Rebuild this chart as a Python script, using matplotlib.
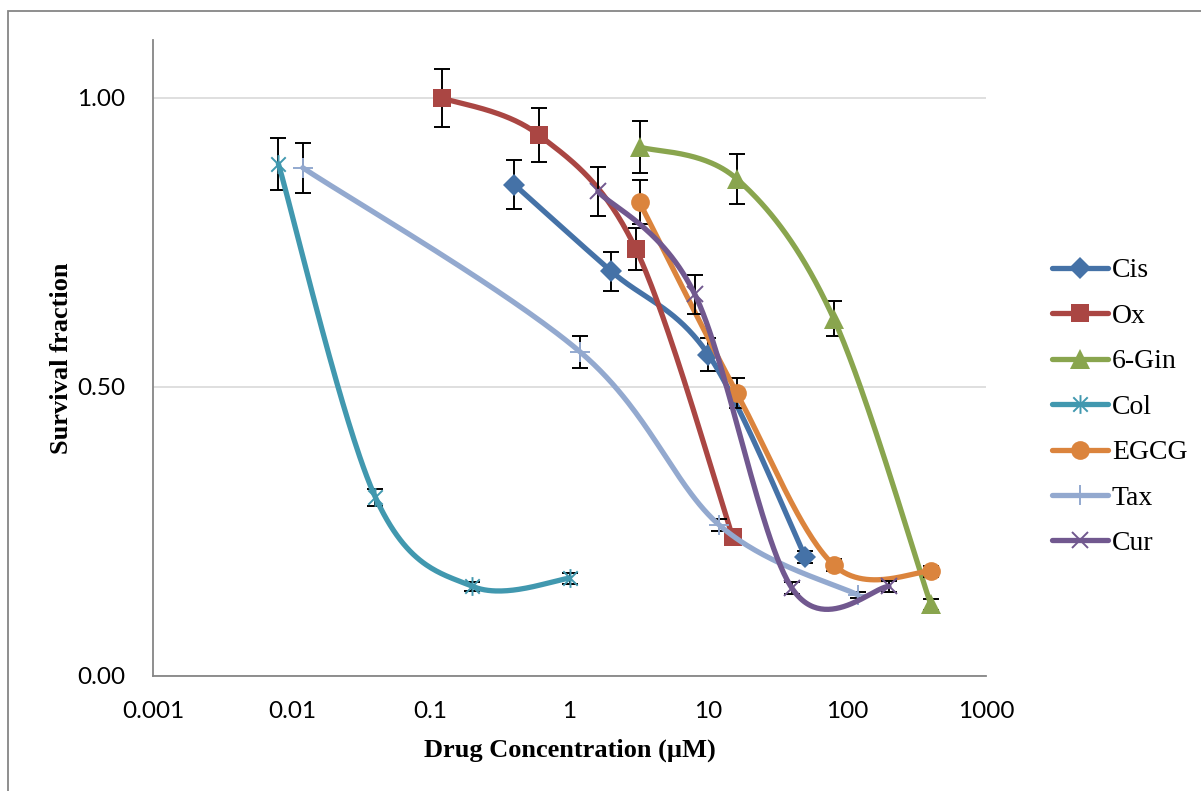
import numpy as np
import matplotlib
matplotlib.use("Agg")
import matplotlib.pyplot as plt
from matplotlib.path import Path
from matplotlib.patches import Rectangle

# ---- data ----
names = ["Cis", "Ox", "6-Gin", "Col", "EGCG", "Tax", "Cur"]
cis_x = [0.4, 2, 10, 50]
cis_y = [0.850, 0.700, 0.556, 0.206]
cis_e = [0.043, 0.034, 0.028, 0.010]
ox_x = [0.12, 0.6, 3, 15]
ox_y = [1.000, 0.936, 0.739, 0.240]
ox_e = [0.050, 0.047, 0.036, 0.010]
gin_x = [3.2, 16, 80, 400]
gin_y = [0.915, 0.860, 0.618, 0.124]
gin_e = [0.045, 0.043, 0.030, 0.010]
col_x = [0.008, 0.04, 0.2, 1]
col_y = [0.886, 0.309, 0.155, 0.169]
col_e = [0.045, 0.015, 0.008, 0.010]
egcg_x = [3.2, 16, 80, 400]
egcg_y = [0.819, 0.490, 0.192, 0.181]
egcg_e = [0.038, 0.026, 0.010, 0.010]
tax_x = [0.012, 1.2, 12, 120]
tax_y = [0.879, 0.560, 0.261, 0.140]
tax_e = [0.043, 0.028, 0.010, 0.005]
cur_x = [1.6, 8, 40, 200]
cur_y = [0.838, 0.660, 0.152, 0.155]
cur_e = [0.042, 0.034, 0.010, 0.010]

xticks = [0.001, 0.01, 0.1, 1, 10, 100, 1000]
xticklabels = ["0.001", "0.01", "0.1", "1", "10", "100", "1000"]
yticks = [0.0, 0.5, 1.0]
yticklabels = ["0.00", "0.50", "1.00"]

colors = ["#4572A7", "#AA4643", "#89A54E", "#4198AF", "#DB843D", "#93A9CF", "#71588F"]

star = Path([(-1, -1), (1, 1), (-1, 1), (1, -1), (0, -1.3), (0, 1.3)],
            [Path.MOVETO, Path.LINETO, Path.MOVETO, Path.LINETO, Path.MOVETO, Path.LINETO])

styles = [
    dict(marker="D", ms=11.5, mew=0),
    dict(marker="s", ms=13, mew=0),
    dict(marker="^", ms=15, mew=0),
    dict(marker=star, ms=13.5, mew=1.4),
    dict(marker="o", ms=13.5, mew=0),
    dict(marker="+", ms=15, mew=1.4),
    dict(marker="x", ms=12, mew=1.4),
]

series = [(cis_x, cis_y, cis_e), (ox_x, ox_y, ox_e), (gin_x, gin_y, gin_e),
          (col_x, col_y, col_e), (egcg_x, egcg_y, egcg_e), (tax_x, tax_y, tax_e),
          (cur_x, cur_y, cur_e)]


def smooth(xs, ys, n=60):
    """Catmull-Rom (Excel-like smoothing) in log10(x)-y space."""
    P = np.column_stack([np.log10(xs), ys])
    P_ext = np.vstack([P[0], P, P[-1]])
    out = [P[0]]
    for i in range(len(P) - 1):
        p0, p1, p2, p3 = P_ext[i], P_ext[i + 1], P_ext[i + 2], P_ext[i + 3]
        c1 = p1 + (p2 - p0) / 6.0
        c2 = p2 - (p3 - p1) / 6.0
        t = np.linspace(0, 1, n)[1:, None]
        seg = ((1 - t) ** 3) * p1 + 3 * ((1 - t) ** 2) * t * c1 + 3 * (1 - t) * t ** 2 * c2 + t ** 3 * p2
        out.extend(seg)
    out = np.array(out)
    return 10 ** out[:, 0], out[:, 1]


W, H = 1201, 791
fig = plt.figure(figsize=(W / 100, H / 100), dpi=100)
ax = fig.add_axes([153 / W, 1 - 676 / H, (986 - 153) / W, (676 - 40) / H])

for i, ((xs, ys, es), name, c, st) in enumerate(zip(series, names, colors, styles)):
    ax.errorbar(xs, ys, yerr=es, fmt="none", ecolor="black", elinewidth=1.4,
                capsize=5.5, capthick=1.4, zorder=2 + i * 0.1)
    sx, sy = smooth(xs, ys)
    ax.plot(sx, sy, color=c, lw=3.8, solid_capstyle="round", zorder=2.05 + i * 0.1)
    ax.plot(xs, ys, linestyle="none", color=c, mfc=c, mec=c, zorder=2.06 + i * 0.1, **st)
    ax.plot([], [], color=c, lw=3.8, solid_capstyle="round", mfc=c, mec=c, label=name, **st)

ax.set_xscale("log")
ax.set_xlim(0.001, 1000)
ax.set_ylim(0, 1.1)
ax.set_xticks(xticks)
ax.set_xticklabels(xticklabels)
ax.minorticks_off()
ax.set_yticks(yticks)
ax.set_yticklabels(yticklabels)
ax.tick_params(axis="both", length=0, labelsize=17.5, colors="black")
ax.tick_params(axis="x", pad=18)
ax.tick_params(axis="y", pad=20)
for lab in ax.get_xticklabels() + ax.get_yticklabels():
    lab.set_family("Lato")

ax.grid(axis="y", color="#D9D9D9", lw=1.2)
ax.set_axisbelow(True)
for s in ["top", "right"]:
    ax.spines[s].set_visible(False)
for s in ["left", "bottom"]:
    ax.spines[s].set_color("#868686")
    ax.spines[s].set_linewidth(1.3)

ax.set_xlabel("Drug Concentration (µM)", family="Liberation Serif", fontweight="bold",
              fontsize=19, labelpad=12)
ax.set_ylabel("Survival fraction", family="Liberation Serif", fontweight="bold",
              fontsize=19, labelpad=3)

leg = ax.legend(loc="upper left", bbox_to_anchor=(1052 / W, 1 - 258 / H),
                bbox_transform=fig.transFigure, frameon=False, numpoints=1,
                prop={"family": "Liberation Serif", "size": 20},
                handlelength=2.0, handletextpad=0.15, labelspacing=0.72,
                borderpad=0, borderaxespad=0)

fig.patches.append(Rectangle((8 / W, -0.1), 1.2, 1 - 11 / H + 0.1, transform=fig.transFigure,
                             fill=False, edgecolor="#868686", lw=1.3))

fig.savefig("out.png", dpi=100)
